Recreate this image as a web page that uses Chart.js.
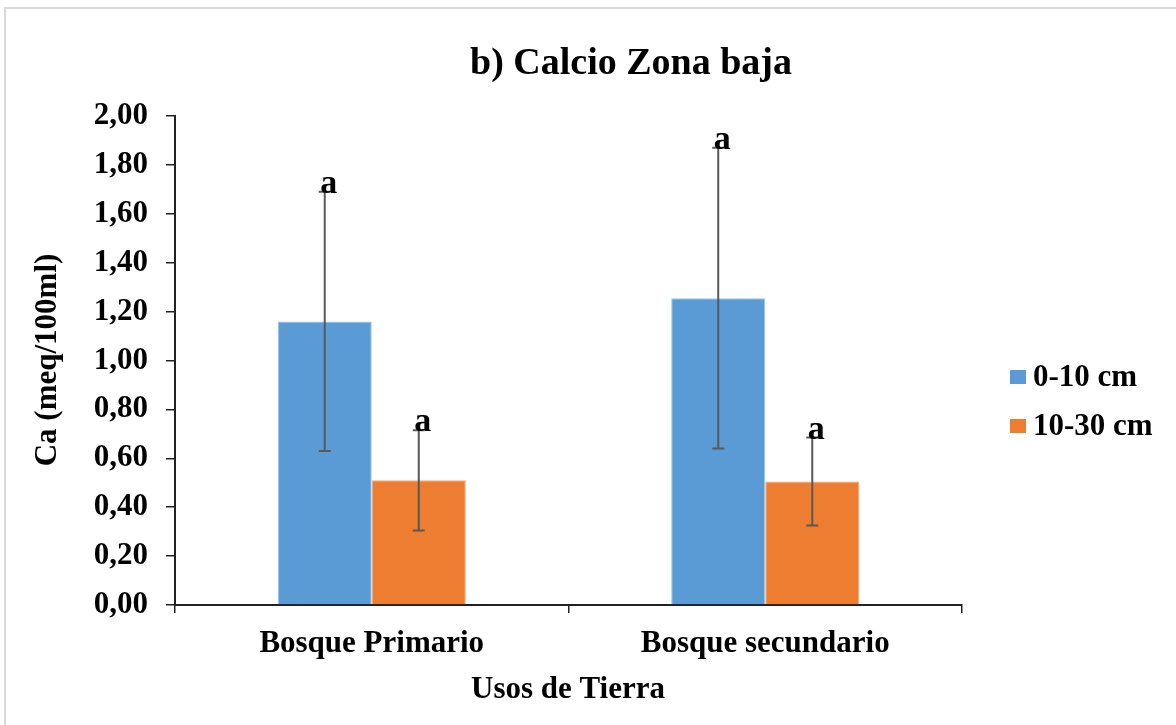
<!DOCTYPE html>
<html>
<head>
<meta charset="utf-8">
<script src="https://cdn.jsdelivr.net/npm/chart.js@4/dist/chart.umd.min.js"></script>
<style>
  html, body { margin: 0; padding: 0; background: #fff; }
  #wrap { width: 1176px; height: 725px; position: relative; }
</style>
</head>
<body>
<div id="wrap"><canvas id="barChart" width="1176" height="725"></canvas></div>
<script>
// data
const categories = ['Bosque Primario', 'Bosque secundario'];
const seriesNames = ['0-10 cm', '10-30 cm'];
const shallow = [1.16, 1.255];
const deep = [0.51, 0.505];
const shallowErr = [0.53, 0.615];
const deepErr = [0.205, 0.18];
const shallowLetters = ['a', 'a'];
const deepLetters = ['a', 'a'];

const BLUE = '#5B9BD5';
const ORANGE = '#ED7D31';
const FONT = '"Liberation Serif", "Times New Roman", serif';

const fmt = function(v) {
  return Number(v).toFixed(2).replace('.', ',');
}

// error bars, letters, titles, legend and frame
const extras = {
  id: 'extras',
  beforeDraw(chart) {
    const ctx = chart.ctx;
    ctx.save();
    ctx.fillStyle = '#fff';
    ctx.fillRect(0, 0, chart.width, chart.height);
    ctx.strokeStyle = '#d9d9d9';
    ctx.lineWidth = 2;
    ctx.strokeRect(5, 8, chart.width + 10, chart.height + 10);
    ctx.restore();
  },
  afterDatasetsDraw(chart) {
    const ctx = chart.ctx;
    const y = chart.scales.y;
    const errs = [shallowErr, deepErr];
    const letters = [shallowLetters, deepLetters];
    ctx.save();
    chart.data.datasets.forEach(function(ds, di) {
      const meta = chart.getDatasetMeta(di);
      meta.data.forEach(function(bar, i) {
        const v = ds.data[i];
        const e = errs[di][i];
        const top = y.getPixelForValue(v + e);
        const bot = y.getPixelForValue(v - e);
        const x = bar.x;
        ctx.strokeStyle = '#595959';
        ctx.lineWidth = 2;
        ctx.beginPath();
        ctx.moveTo(x, top); ctx.lineTo(x, bot);
        ctx.moveTo(x - 6, top); ctx.lineTo(x + 6, top);
        ctx.moveTo(x - 6, bot); ctx.lineTo(x + 6, bot);
        ctx.stroke();
        ctx.fillStyle = '#000';
        ctx.font = 'bold 34px ' + FONT;
        ctx.textAlign = 'center';
        ctx.textBaseline = 'alphabetic';
        ctx.fillText(letters[di][i], x + 4, top + 1);
      });
    });

    // titles
    ctx.fillStyle = '#000';
    ctx.textAlign = 'center';
    ctx.textBaseline = 'middle';
    ctx.font = 'bold 38px ' + FONT;
    ctx.fillText('b) Calcio Zona baja', 631, 64);
    ctx.font = 'bold 31px ' + FONT;
    ctx.fillText('Usos de Tierra', 568, 690);
    ctx.save();
    ctx.translate(48, 360);
    ctx.rotate(-Math.PI / 2);
    ctx.fillText('Ca (meq/100ml)', 0, 0);
    ctx.restore();

    // legend
    ctx.textAlign = 'left';
    ctx.font = 'bold 31px ' + FONT;
    chart.data.datasets.forEach(function(ds, di) {
      const ly = 377 + di * 49;
      ctx.fillStyle = ds.backgroundColor;
      ctx.fillRect(1010, ly - 7, 16, 14);
      ctx.fillStyle = '#000';
      ctx.fillText(ds.label, 1033, ly + 1);
    });
    ctx.restore();
  }
};

let barChart = function(el) {
  return new Chart(el, {
    type: 'bar',
    data: {
      labels: categories,
      datasets: [
        {
          label: seriesNames[0],
          data: shallow,
          backgroundColor: BLUE,
          borderColor: '#9cc3e6',
          borderWidth: 1,
          categoryPercentage: 0.478,
          barPercentage: 1.0
        },
        {
          label: seriesNames[1],
          data: deep,
          backgroundColor: ORANGE,
          borderColor: '#f3a877',
          borderWidth: 1,
          categoryPercentage: 0.478,
          barPercentage: 1.0
        }
      ]
    },
    options: {
      responsive: false,
      animation: false,
      layout: { padding: { left: 0, top: 116, right: 214, bottom: 0 } },
      plugins: {
        legend: { display: false },
        title: { display: false },
        tooltip: { enabled: false }
      },
      scales: {
        x: {
          grid: { drawOnChartArea: false, tickLength: 8, color: '#222', lineWidth: 1.5 },
          border: { color: '#222', width: 2 },
          ticks: { color: '#000', font: { family: FONT, size: 31, weight: 'bold' }, padding: 12 },
          afterFit(scale) { scale.height = 120; }
        },
        y: {
          min: 0,
          max: 2,
          grid: { drawOnChartArea: false, tickLength: 9, color: '#222', lineWidth: 1.5 },
          border: { color: '#222', width: 2 },
          ticks: {
            stepSize: 0.2,
            color: '#000',
            padding: 18,
            font: { family: FONT, size: 31, weight: 'bold' },
            callback: function(v) { return fmt(v); }
          },
          afterFit(scale) { scale.width = 175; }
        }
      }
    },
    plugins: [extras]
  });
}

barChart(document.getElementById('barChart').getContext('2d'));
</script>
</body>
</html>
